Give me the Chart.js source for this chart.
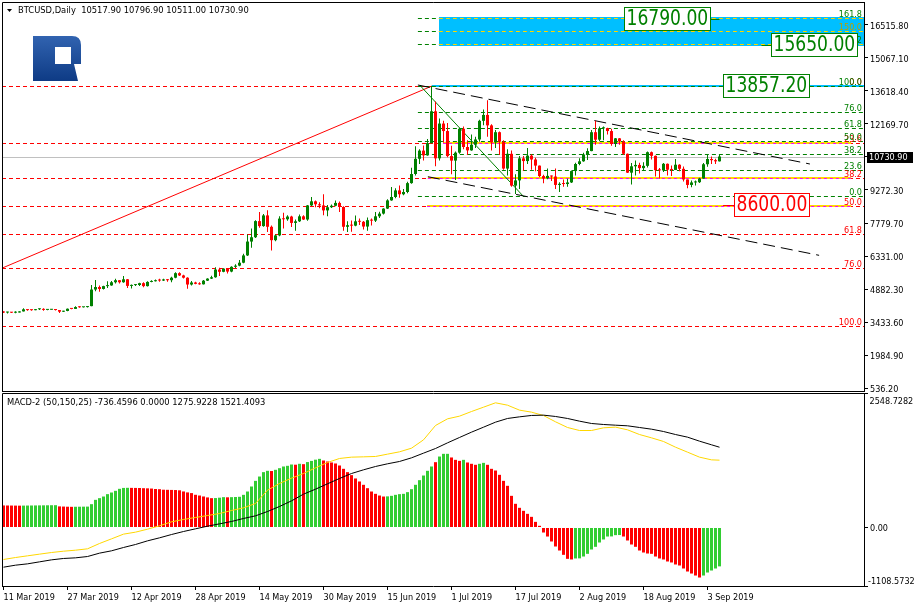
<!DOCTYPE html>
<html>
<head>
<meta charset="utf-8">
<title>BTCUSD Daily</title>
<script src="https://cdn.jsdelivr.net/npm/chart.js@4.4.1/dist/chart.umd.min.js"></script>
<style>
  html, body { margin: 0; padding: 0; background: #fff; overflow: hidden; }
  #wrap { position: relative; width: 915px; height: 607px; }
  canvas { position: absolute; left: 0; }
  #priceChart { top: 0; }
  #macdChart { top: 393px; }
</style>
</head>
<body>
<div id="wrap">
  <canvas id="priceChart" width="915" height="393" style="width:915px;height:393px"></canvas>
  <canvas id="macdChart" width="915" height="214" style="width:915px;height:214px"></canvas>
</div>
<script>
// BTCUSD Daily, one bar per day from 11 Mar 2019 (bar 0) to 6 Sep 2019 (bar 179)
const opens = [
  3915,3868,3880,3862,3870,3918,4010,3975,3972,4012,
  4030,3985,3990,3998,3978,3905,3938,4035,4028,4110,
  4100,4108,4150,4880,4990,4905,5030,5060,5200,5290,
  5200,5330,5040,5075,5080,5160,5030,5215,5245,5290,
  5275,5325,5290,5400,5600,5500,5400,5100,5190,5130,
  5110,5270,5360,5420,5760,5660,5800,5670,5880,5930,
  6060,6380,6990,7180,7890,7670,8140,7640,7050,7260,
  8000,7970,8090,7810,7880,8100,7960,8580,8760,8630,
  8580,8360,8500,8565,8690,8510,7640,7710,7690,7880,
  7860,7650,7930,7910,8100,8220,8440,8800,8950,9240,
  9070,9170,9560,9960,10630,10990,10780,11320,12720,10650,
  12180,11850,10750,10550,10900,11950,11150,11000,11250,11480,
  12300,12560,12100,11350,11800,11380,10200,10850,9450,9680,
  10650,10530,10770,10600,10330,9870,9770,9880,9850,9480,
  9530,9520,9590,10090,10400,10520,10820,10970,11800,11470,
  11970,11980,11850,11280,11530,11390,10850,10020,10300,10360,
  10220,10320,10920,10760,10130,10120,10410,10150,10140,10370,
  10190,9720,9480,9590,9600,9760,10390,10620,10570,10517.9
];
const highs = [
  3930,3900,3890,3920,3930,4060,4012,4005,4020,4050,
  4060,4000,4005,4000,3985,3950,4050,4040,4140,4145,
  4115,4160,5080,5300,5060,5050,5240,5250,5350,5300,
  5480,5340,5100,5120,5180,5200,5240,5290,5320,5350,
  5350,5340,5440,5640,5640,5530,5420,5250,5220,5200,
  5300,5380,5490,5860,5840,5820,5830,5900,5990,6180,
  6450,7300,7560,7930,8290,8200,8370,7700,7300,8100,
  8260,8150,8120,7960,8180,8150,8600,8950,8800,8720,
  9070,8600,8620,8800,8750,8540,7880,7920,8140,8000,
  7890,8050,8000,8290,8300,8450,8850,9390,9330,9460,
  9300,9620,10240,11180,11050,11220,11500,13830,13150,12400,
  12300,12200,11200,10950,12000,12050,11450,11700,11600,12350,
  12800,13200,12150,11900,11830,11450,11050,11000,9950,10750,
  10750,11100,10830,10680,10330,9930,10200,9890,10200,9600,
  9720,9750,10120,10460,10650,10900,11090,11900,12300,12050,
  12050,12000,11950,11550,11550,11450,10860,10450,10550,10460,
  10480,10950,10950,10770,10230,10450,10420,10340,10620,10390,
  10290,9720,9670,9680,9800,10450,10800,10730,10630,10796.9
];
const lows = [
  3850,3830,3850,3840,3865,3910,3950,3945,3965,3985,
  3950,3965,3975,3960,3850,3895,3930,4010,4020,4080,
  4085,4090,4140,4800,4780,4880,4950,5050,5150,5150,
  5180,4950,4930,5030,5030,4980,5010,5200,5230,5220,
  5250,5220,5200,5380,5480,5360,4920,5060,5110,5090,
  5100,5260,5340,5400,5480,5640,5580,5640,5830,5900,
  6040,6360,6720,7150,7600,7640,7410,6600,7000,7220,
  7560,7900,7630,7460,7850,7940,7900,8550,8500,8450,
  8150,8100,8470,8540,8290,7460,7410,7420,7660,7720,
  7520,7460,7700,7850,8030,8180,8420,8780,8900,8920,
  9030,9120,9530,9900,10400,10560,10760,11300,10300,10550,
  11350,10700,9950,9700,10850,11050,10800,10980,11100,11380,
  12100,11600,11000,11100,10800,10150,9900,9400,9080,9300,
  10100,10400,10150,10080,9820,9550,9730,9650,9300,9170,
  9400,9400,9570,9890,10350,10500,10580,10960,11250,11400,
  11450,11700,11200,11150,11250,10800,10000,9500,9900,9980,
  10090,10250,10600,9850,9760,10050,9900,9870,10140,10080,
  9630,9330,9380,9460,9560,9750,10280,10400,10400,10511
];
const closes = [
  3868,3880,3862,3870,3918,4010,3975,3972,4012,4030,
  3985,3990,3998,3978,3905,3938,4035,4028,4110,4100,
  4108,4150,4880,4990,4905,5030,5060,5200,5290,5200,
  5330,5040,5075,5080,5160,5030,5215,5245,5290,5275,
  5325,5290,5400,5600,5500,5400,5100,5190,5130,5110,
  5270,5360,5420,5760,5660,5800,5670,5880,5930,6060,
  6380,6990,7180,7890,7670,8140,7640,7050,7260,8000,
  7970,8090,7810,7880,8100,7960,8580,8760,8630,8580,
  8360,8500,8565,8690,8510,7640,7710,7690,7880,7860,
  7650,7930,7910,8100,8220,8440,8800,8950,9240,9070,
  9170,9560,9960,10630,10990,10780,11320,12720,10650,12180,
  11850,10750,10550,10900,11950,11150,11000,11250,11480,12300,
  12560,12100,11350,11800,11380,10200,10850,9450,9680,10650,
  10530,10770,10600,10330,9870,9770,9880,9850,9480,9530,
  9520,9590,10090,10400,10520,10820,10970,11800,11470,11970,
  11980,11850,11280,11530,11390,10850,10020,10300,10360,10220,
  10320,10920,10760,10130,10120,10410,10150,10140,10370,10190,
  9720,9480,9590,9600,9760,10390,10620,10570,10518,10730.9
];

// MACD-2 (50,150,25): histogram per bar, g = rising buffer, r = falling buffer
const histValues = [
  418,417,416,415,414,415,416,417,418,419,
  420,421,422,423,400,397,394,392,393,394,
  395,396,442,524,556,587,632,663,695,733,
  750,752,751,750,748,745,742,738,730,726,
  716,714,712,710,705,683,665,652,620,606,
  588,570,556,558,565,575,572,575,578,582,
  619,682,777,884,966,1049,1074,1070,1093,1124,
  1156,1169,1194,1190,1207,1200,1240,1262,1285,1301,
  1270,1251,1232,1213,1175,1112,1049,992,929,872,
  809,745,682,638,606,587,590,600,619,632,
  638,670,726,809,897,985,1074,1156,1238,1345,
  1396,1396,1327,1282,1263,1282,1232,1207,1188,1207,
  1225,1188,1112,1080,998,884,790,600,449,373,
  316,259,202,107,32,-95,-171,-265,-360,-436,
  -518,-594,-606,-587,-585,-550,-499,-417,-366,-284,
  -227,-171,-169,-145,-143,-171,-246,-322,-366,-436,
  -474,-493,-499,-550,-587,-606,-644,-663,-701,-720,
  -777,-834,-872,-910,-948,-910,-853,-815,-777,-736.4596
];
const histTrend = [
  'rrrrrggggg', 'ggggrrrrgg', 'gggggggggg', 'ggrrrrrrrr', 'rrrrrrrrrr',
  'rrrgggrggg', 'gggggggrgg', 'gggrgrgggg', 'rrrrrrrrrr', 'rrrrrrgggg',
  'ggggggggrg', 'ggrrrgrrrg', 'grrrrrrrrr', 'rrrrrrrrrr', 'rrrggggggg',
  'gggggrrrrr', 'rrrrrrrrrr', 'rrrrrggggg'
].join('');

// MACD lines read every 3 bars
const macdBars = [
  0,3,6,9,12,15,18,21,24,27,30,33,36,39,42,45,48,51,54,57,
  60,63,66,69,72,75,78,81,84,87,90,93,96,99,102,105,108,111,114,117,
  120,123,126,129,132,135,138,141,144,147,150,153,156,159,162,165,168,171,174,177,179
];
const macdMain = [
  -606,-569,-537,-505,-474,-449,-430,-404,-303,-215,-126,-88,-32,32,107,152,190,227,265,322,
  373,455,707,834,935,1023,1131,1232,1308,1333,1339,1346,1390,1434,1503,1661,1933,2059,2110,2198,
  2280,2363,2318,2224,2186,2122,2003,1895,1838,1838,1889,1902,1851,1762,1699,1630,1522,1428,1333,1282,1275.9228
];
const macdSignal = [
  -752,-714,-689,-651,-613,-587,-575,-550,-486,-442,-379,-322,-253,-196,-133,-76,-25,25,69,114,
  171,221,303,398,505,632,726,828,929,1023,1093,1156,1207,1251,1320,1409,1497,1604,1706,1807,
  1901,1996,2066,2097,2123,2129,2104,2066,2015,1971,1952,1939,1927,1895,1863,1819,1762,1712,1636,1567,1521.4093
];

const priceTicks = [16515.80, 15067.10, 13618.40, 12169.70, 10721.00, 9272.30, 7779.70, 6331.00, 4882.30, 3433.60, 1984.90, 536.20];
const macdTicks = [-1108.5732, 0, 2548.7282];
const dateTickBars = [0, 16, 32, 48, 64, 80, 96, 112, 128, 144, 160, 176];
const dateTickLabels = ['11 Mar 2019', '27 Mar 2019', '12 Apr 2019', '28 Apr 2019', '14 May 2019', '30 May 2019',
  '15 Jun 2019', '1 Jul 2019', '17 Jul 2019', '2 Aug 2019', '18 Aug 2019', '3 Sep 2019'];

// chart objects drawn on the price panel (bar index, price)
const redFibo = { p0: 13830, p100: 3290, fromBar: -1, levels: [0, 23.6, 38.2, 50, 61.8, 76, 100] };
const greenFibo = { p0: 8990, p100: 13830, fromBar: 103.6, levels: [0, 23.6, 38.2, 50, 61.8, 76, 100, 138.2, 150, 161.8] };
const yellowLevels = [
  { level: 23.6, fromBar: 109.9, toBar: 211.9 },
  { level: 38.2, fromBar: 106.1, toBar: 211.9 },
  { level: 50, fromBar: 105.9, toBar: 211.9 }
];
const targetZone = { fromBar: 108.9, low: 15610, high: 16850 };
const blueLine = { fromBar: 107.1, price: 13830 };
const trendLines = [
  { a: [-0.875, 5783], b: [107.1, 13830], color: '#ff0000', dash: [] },
  { a: [104.1, 13860], b: [129.9, 8993], color: '#008000', dash: [] },
  { a: [103.6, 13875], b: [201.6, 10401], color: '#000000', dash: [12, 6] },
  { a: [106.1, 9842], b: [203.9, 6385], color: '#000000', dash: [12, 6] }
];
const priceLabels = [
  { text: '16790.00', price: 16790, boxBar: 155.1, anchorBar: 179, color: '#008000' },
  { text: '15650.00', price: 15650, boxBar: 191.75, anchorBar: 189.5, color: '#008000' },
  { text: '13857.20', price: 13840, boxBar: 179.95, anchorBar: 179.95, color: '#008000' },
  { text: '8600.00', price: 8580, boxBar: 182.7, anchorBar: 179.9, color: '#ff0000' }
];

const FONT = '"DejaVu Sans Condensed", "DejaVu Sans", sans-serif';
Chart.defaults.font.family = FONT;
Chart.defaults.font.size = 9;
Chart.defaults.color = '#000000';

// bar i is centred on pixel 3.5 + 4*i
const X_MIN = -0.375, X_MAX = 215.125;
const last = closes.length - 1;
const lastClose = closes[last];

const barIdx = closes.map((c, i) => i);
const candleColors = barIdx.map(i => closes[i] >= opens[i] ? '#008000' : '#ff0000');

function fibPrice(f, lvl) { return f.p0 + (f.p100 - f.p0) * lvl / 100; }

function hline(ctx, x1, x2, y, color, width, dash) {
  ctx.save();
  ctx.strokeStyle = color;
  ctx.lineWidth = width;
  ctx.setLineDash(dash || []);
  const yy = width % 2 ? Math.round(y) + 0.5 : Math.round(y);
  ctx.beginPath();
  ctx.moveTo(x1, yy);
  ctx.lineTo(x2, yy);
  ctx.stroke();
  ctx.restore();
}

// keep chart area at the exact panel bounds
function noScalePadding(s) {
  s.paddingTop = 0; s.paddingBottom = 0; s.paddingLeft = 0; s.paddingRight = 0;
}

const priceObjects = {
  id: 'priceObjects',
  beforeDatasetsDraw(chart) {
    const { ctx, chartArea: a } = chart;
    const X = v => chart.scales.x.getPixelForValue(v);
    const Y = v => chart.scales.y.getPixelForValue(v);
    ctx.save();
    ctx.beginPath();
    ctx.rect(a.left, a.top, a.right - a.left, a.bottom - a.top);
    ctx.clip();

    // target zone
    const zx = Math.round(X(targetZone.fromBar));
    const zt = Math.round(Y(targetZone.high)), zb = Math.round(Y(targetZone.low));
    ctx.fillStyle = '#00bfff';
    ctx.fillRect(zx, zt, a.right - zx, zb - zt);

    // last price
    hline(ctx, a.left, a.right, Y(lastClose), '#c0c0c0', 1);

    // red fibo
    redFibo.levels.forEach(l => hline(ctx, a.left, a.right, Y(fibPrice(redFibo, l)), '#ff0000', 1, [4, 3]));

    // high level
    hline(ctx, X(blueLine.fromBar), a.right, Y(blueLine.price), '#00bfff', 2);

    // green fibo
    const gx = X(greenFibo.fromBar);
    greenFibo.levels.forEach(l => hline(ctx, gx, a.right, Y(fibPrice(greenFibo, l)), '#008000', 1, [4, 3]));
    ctx.save();
    ctx.beginPath();
    ctx.rect(zx, zt, a.right - zx, zb - zt);
    ctx.clip();
    greenFibo.levels.filter(l => l > 100).forEach(l => hline(ctx, gx, a.right, Y(fibPrice(greenFibo, l)), '#ffd700', 1, [4, 3]));
    ctx.restore();

    // yellow levels
    yellowLevels.forEach(lv => {
      const y = Y(fibPrice(redFibo, lv.level));
      hline(ctx, X(lv.fromBar), X(lv.toBar), y, '#ffd700', 2);
      hline(ctx, X(lv.fromBar), X(lv.toBar), y, '#ff00ff', 1, [3, 3]);
    });

    // trend lines
    trendLines.forEach(t => {
      ctx.save();
      ctx.strokeStyle = t.color;
      ctx.lineWidth = 1;
      ctx.setLineDash(t.dash);
      ctx.beginPath();
      ctx.moveTo(X(t.a[0]), Y(t.a[1]));
      ctx.lineTo(X(t.b[0]), Y(t.b[1]));
      ctx.stroke();
      ctx.restore();
    });
    ctx.restore();
  },
  afterDatasetsDraw(chart) {
    const { ctx, chartArea: a } = chart;
    const X = v => chart.scales.x.getPixelForValue(v);
    const Y = v => chart.scales.y.getPixelForValue(v);
    ctx.save();
    ctx.font = '9px ' + FONT;
    ctx.textAlign = 'right';
    ctx.textBaseline = 'alphabetic';
    redFibo.levels.forEach(l => {
      ctx.fillStyle = '#ff0000';
      ctx.fillText(l.toFixed(1), a.right - 2, Math.round(Y(fibPrice(redFibo, l))) - 1);
    });
    greenFibo.levels.forEach(l => {
      ctx.fillStyle = l === 150 ? '#b8a000' : '#008000';
      ctx.fillText(l.toFixed(1), a.right - 2, Math.round(Y(fibPrice(greenFibo, l))) - 1);
    });

    // price boxes
    priceLabels.forEach(p => {
      ctx.font = '21px ' + FONT;
      const k = 10.9 / ctx.measureText('0').width;
      const tw = ctx.measureText(p.text).width * k;
      const w = Math.round(tw + 5), h = 24;
      const yc = Math.round(Y(p.price));
      const bx = Math.round(X(p.boxBar));
      const ax = X(p.anchorBar);
      ctx.strokeStyle = p.color;
      ctx.lineWidth = 1;
      ctx.setLineDash([]);
      ctx.beginPath();
      if (ax > bx + w) { ctx.moveTo(bx + w, yc + 0.5); ctx.lineTo(ax, yc + 0.5); }
      else if (ax < bx) { ctx.moveTo(ax, yc + 0.5); ctx.lineTo(bx, yc + 0.5); }
      ctx.stroke();
      ctx.fillStyle = '#ffffff';
      ctx.fillRect(bx, yc - 12, w, h);
      ctx.strokeRect(bx + 0.5, yc - 11.5, w - 1, h - 1);
      ctx.save();
      ctx.translate(bx + 2.5, yc + 1);
      ctx.scale(k, 1);
      ctx.fillStyle = p.color;
      ctx.textAlign = 'left';
      ctx.textBaseline = 'middle';
      ctx.fillText(p.text, 0, 0);
      ctx.restore();
    });
    ctx.restore();
  },
  afterDraw(chart) {
    const { ctx, chartArea: a } = chart;
    const Y = v => chart.scales.y.getPixelForValue(v);
    ctx.save();
    // frame
    ctx.strokeStyle = '#000';
    ctx.lineWidth = 1;
    ctx.beginPath();
    ctx.moveTo(a.left + 0.5, a.bottom + 0.5);
    ctx.lineTo(a.left + 0.5, a.top + 0.5);
    ctx.lineTo(a.right + 1, a.top + 0.5);
    ctx.moveTo(a.left, a.bottom + 0.5);
    ctx.lineTo(a.right + 1, a.bottom + 0.5);
    ctx.stroke();

    // title
    ctx.fillStyle = '#000';
    ctx.beginPath();
    ctx.moveTo(7, 9); ctx.lineTo(12, 9); ctx.lineTo(9.5, 12); ctx.closePath();
    ctx.fill();
    ctx.font = '9.3px ' + FONT;
    ctx.textAlign = 'left';
    ctx.textBaseline = 'middle';
    ctx.fillText('BTCUSD,Daily  ' + [opens[last], highs[last], lows[last], closes[last]].map(v => v.toFixed(2)).join(' '), 18, 11);

    // logo
    const g = ctx.createLinearGradient(0, 36, 0, 81);
    g.addColorStop(0, '#3163b0');
    g.addColorStop(1, '#0e3b85');
    ctx.fillStyle = g;
    ctx.beginPath();
    ctx.moveTo(33, 36); ctx.lineTo(72, 36); ctx.quadraticCurveTo(81, 36, 81, 45);
    ctx.lineTo(81, 64); ctx.lineTo(74, 64); ctx.lineTo(78, 81); ctx.lineTo(55, 81); ctx.lineTo(55, 81);
    ctx.lineTo(33, 81); ctx.closePath();
    ctx.moveTo(55, 47); ctx.lineTo(55, 64); ctx.lineTo(71, 64); ctx.lineTo(71, 47); ctx.closePath();
    ctx.fill('evenodd');

    // last price tag
    ctx.font = '9px ' + FONT;
    const yy = Math.round(Y(lastClose));
    ctx.fillStyle = '#000';
    ctx.fillRect(867, yy - 5, 46, 11);
    ctx.fillStyle = '#fff';
    ctx.fillText(lastClose.toFixed(2), 869, yy + 1);
    ctx.restore();
  }
};

const macdObjects = {
  id: 'macdObjects',
  afterDraw(chart) {
    const { ctx, chartArea: a } = chart;
    const Y = v => chart.scales.y.getPixelForValue(v);
    ctx.save();
    ctx.strokeStyle = '#000';
    ctx.lineWidth = 1;
    ctx.beginPath();
    ctx.moveTo(a.left + 0.5, a.bottom);
    ctx.lineTo(a.left + 0.5, a.top + 0.5);
    ctx.lineTo(a.right + 1, a.top + 0.5);
    ctx.stroke();
    ctx.fillStyle = '#000';
    ctx.font = '9.3px ' + FONT;
    ctx.textAlign = 'left';
    ctx.textBaseline = 'middle';
    ctx.fillText('MACD-2 (50,150,25) ' + [histValues[last].toFixed(4), '0.0000', macdMain[macdMain.length - 1].toFixed(4),
      macdSignal[macdSignal.length - 1].toFixed(4)].join(' '), 7, 10);
    ctx.font = '9px ' + FONT;
    ctx.fillText(macdTicks[2].toFixed(4), 869.5, Y(macdTicks[2]) + 9);
    ctx.fillText(macdTicks[0].toFixed(4), 868, Y(macdTicks[0]) - 4.5);
    ctx.restore();
  }
};

new Chart('priceChart', {
  type: 'bar',
  data: {
    datasets: [
      {
        data: barIdx.map(i => ({ x: i, y: [lows[i], highs[i]] })),
        backgroundColor: candleColors,
        barThickness: 1, grouped: false, borderWidth: 0, inflateAmount: 0, order: 2
      },
      {
        data: barIdx.map(i => ({ x: i, y: [opens[i], closes[i]] })),
        backgroundColor: candleColors,
        barThickness: 3, grouped: false, borderWidth: 0, inflateAmount: 0, minBarLength: 1, order: 1
      }
    ]
  },
  options: {
    responsive: false, animation: false, devicePixelRatio: 1, events: [],
    layout: { padding: { left: 2, top: 2, right: 0, bottom: 2 } },
    plugins: { legend: { display: false }, tooltip: { enabled: false } },
    scales: {
      x: {
        type: 'linear', min: X_MIN, max: X_MAX, offset: false, display: false,
        grid: { offset: false }
      },
      y: {
        type: 'linear', position: 'right', min: 417.5, max: 17526,
        afterBuildTicks: s => { s.ticks = priceTicks.map(v => ({ value: v })); },
        afterFit: s => { s.width = 51; noScalePadding(s); },
        ticks: { autoSkip: false, padding: 2, labelOffset: 1.5, callback: v => v.toFixed(2) },
        grid: { drawOnChartArea: false, drawTicks: true, tickLength: 4, color: '#000' },
        border: { display: true, color: '#000' }
      }
    }
  },
  plugins: [priceObjects]
});

new Chart('macdChart', {
  type: 'bar',
  data: {
    datasets: [
      {
        type: 'line',
        data: macdBars.map((b, k) => ({ x: b, y: macdSignal[k] })),
        borderColor: '#000000', borderWidth: 1, pointRadius: 0, tension: 0, order: 0
      },
      {
        type: 'line',
        data: macdBars.map((b, k) => ({ x: b, y: macdMain[k] })),
        borderColor: '#ffd700', borderWidth: 1, pointRadius: 0, tension: 0, order: 0
      },
      {
        data: barIdx.map(i => ({ x: i, y: histValues[i] })),
        backgroundColor: barIdx.map(i => histTrend[i] === 'g' ? '#32cd32' : '#ff0000'),
        barThickness: 3, grouped: false, borderWidth: 0, inflateAmount: 0, order: 2
      }
    ]
  },
  options: {
    responsive: false, animation: false, devicePixelRatio: 1, events: [],
    layout: { padding: { left: 2, top: 0, right: 0, bottom: 0 } },
    plugins: { legend: { display: false }, tooltip: { enabled: false } },
    scales: {
      x: {
        type: 'linear', min: X_MIN, max: X_MAX, offset: false, position: 'bottom',
        afterBuildTicks: s => { s.ticks = dateTickBars.map(v => ({ value: v })); },
        afterFit: s => { s.height = 21; noScalePadding(s); },
        ticks: {
          autoSkip: false, maxRotation: 0, align: 'start', padding: 2,
          callback: v => dateTickLabels[dateTickBars.indexOf(v)]
        },
        grid: { offset: false, drawOnChartArea: false, drawTicks: true, tickLength: 4, color: '#000' },
        border: { display: true, color: '#000' }
      },
      y: {
        type: 'linear', position: 'right', min: macdTicks[0], max: macdTicks[2],
        afterBuildTicks: s => { s.ticks = macdTicks.map(v => ({ value: v })); },
        afterFit: s => { s.width = 51; noScalePadding(s); },
        ticks: { autoSkip: false, padding: 2, labelOffset: 1.5, callback: v => v === 0 ? '0.00' : '' },
        grid: { drawOnChartArea: false, drawTicks: true, tickLength: 4, color: '#000' },
        border: { display: true, color: '#000' }
      }
    }
  },
  plugins: [macdObjects]
});
</script>
</body>
</html>
